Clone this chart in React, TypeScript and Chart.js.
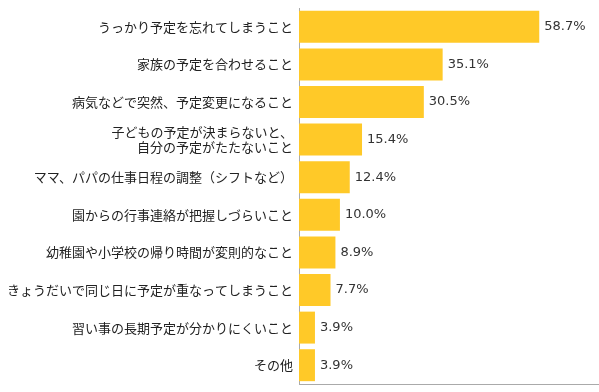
import React, { useEffect, useRef } from "react";
import { Chart, registerables } from "chart.js";

Chart.register(...registerables);

const categories: (string | string[])[] = [
  "うっかり予定を忘れてしまうこと",
  "家族の予定を合わせること",
  "病気などで突然、予定変更になること",
  ["子どもの予定が決まらないと、", "自分の予定がたたないこと"],
  "ママ、パパの仕事日程の調整（シフトなど）",
  "園からの行事連絡が把握しづらいこと",
  "幼稚園や小学校の帰り時間が変則的なこと",
  "きょうだいで同じ日に予定が重なってしまうこと",
  "習い事の長期予定が分かりにくいこと",
  "その他",
];
const values = [58.7, 35.1, 30.5, 15.4, 12.4, 10.0, 8.9, 7.7, 3.9, 3.9];
const valueLabels = ["58.7%", "35.1%", "30.5%", "15.4%", "12.4%", "10.0%", "8.9%", "7.7%", "3.9%", "3.9%"];

const FONT = "'Noto Sans CJK JP', 'Noto Sans', sans-serif";
const NUM_FONT = "'DejaVu Sans', sans-serif";

const valueLabelPlugin = {
  id: "valueLabels",
  afterDatasetsDraw(chart: any) {
    const ctx = chart.ctx;
    const meta = chart.getDatasetMeta(0);
    ctx.save();
    ctx.font = `13px ${NUM_FONT}`;
    ctx.fillStyle = "#333";
    ctx.textAlign = "left";
    ctx.textBaseline = "middle";
    meta.data.forEach((bar: any, i: number) => {
      ctx.fillText(valueLabels[i], bar.x + 5, bar.y);
    });
    ctx.restore();
  },
};

export default function App() {
  const ref = useRef<HTMLCanvasElement>(null);
  useEffect(() => {
    document.body.style.margin = "0";
    const chart = new Chart(ref.current!, {
      type: "bar",
      data: {
        labels: categories,
        datasets: [
          {
            data: values,
            backgroundColor: "#FFC928",
            borderWidth: 0,
            categoryPercentage: 0.85,
            barPercentage: 1,
          },
        ],
      },
      options: {
        indexAxis: "y",
        animation: false,
        responsive: false,
        layout: { padding: { top: 8, bottom: 8, left: 0, right: 0 } },
        plugins: { legend: { display: false }, tooltip: { enabled: false } },
        scales: {
          x: {
            min: 0,
            max: 73.3,
            grid: { display: false, drawTicks: false },
            ticks: { display: false },
            border: { display: true, color: "#aaa" },
          },
          y: {
            grid: { display: false, drawTicks: false },
            border: { display: true, color: "#aaa" },
            ticks: {
              color: "#222",
              padding: 6,
              font: { family: FONT, size: 13 },
            },
            afterFit: (scale: any) => {
              scale.width = 299;
              scale.paddingTop = 0;
              scale.paddingBottom = 0;
            },
          },
        },
      },
      plugins: [valueLabelPlugin],
    });
    return () => chart.destroy();
  }, []);
  return (
    <div style={{ width: 599, height: 392 }}>
      <canvas ref={ref} width={599} height={392} />
    </div>
  );
}
